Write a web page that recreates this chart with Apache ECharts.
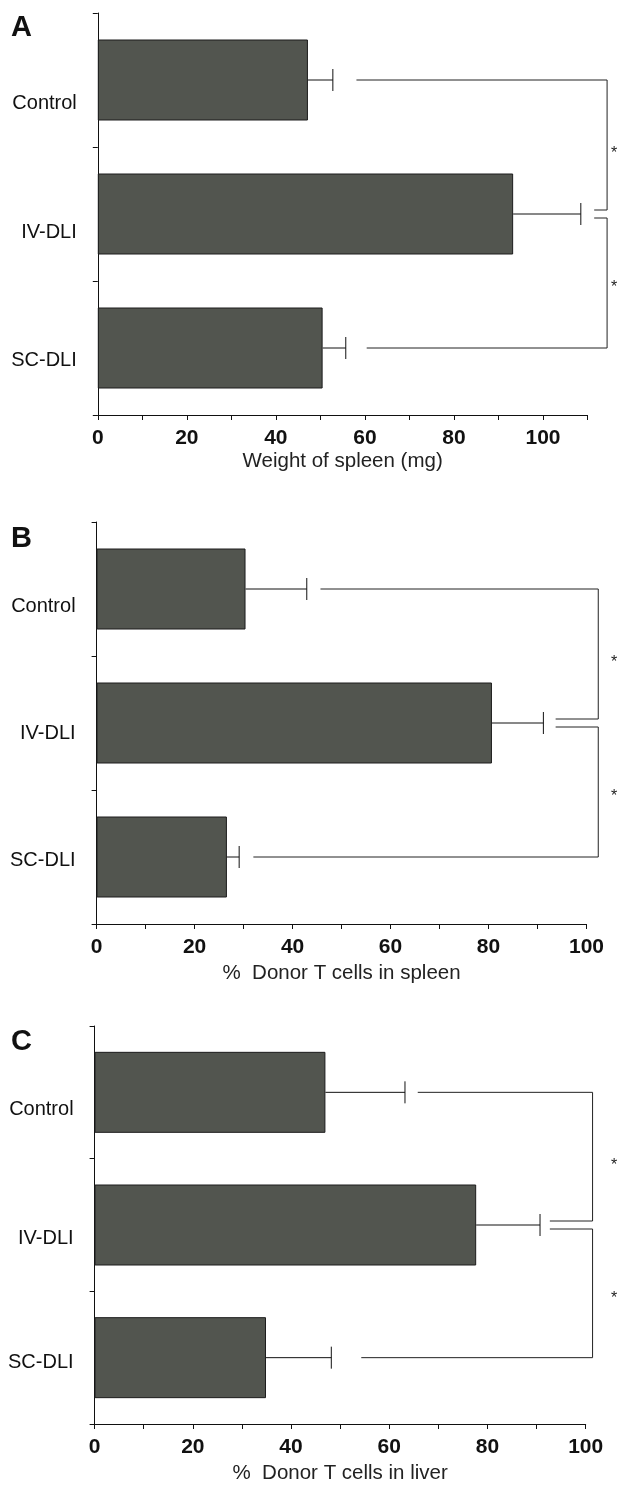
<!DOCTYPE html>
<html><head><meta charset="utf-8">
<script src="https://cdn.jsdelivr.net/npm/echarts@6/dist/echarts.min.js"></script>
<style>html,body{margin:0;padding:0;background:#fff}#c{width:618px;height:1485px}</style>
</head><body><div id="c"></div>
<script>
// ---------- data ----------
const categories = ['Control', 'IV-DLI', 'SC-DLI'];
const spleenWeight = [47.2, 93.3, 50.5];
const spleenWeightErr = [5.6, 15.2, 5.2];
const donorSpleen = [30.4, 80.7, 26.6];
const donorSpleenErr = [12.5, 10.5, 2.5];
const donorLiver = [47.0, 77.7, 34.9];
const donorLiverErr = [16.2, 13.0, 13.3];
const xLabelValues = [0, 20, 40, 60, 80, 100];
const xMaxA = 110, xMaxB = 100, xMaxC = 100;
// significance brackets: [Control line start, SC-DLI line start, bracket x, IV-DLI stub end]
const bracketA = [58.1, 60.4, 114.4, 111.5];
const bracketB = [45.7, 32.0, 102.4, 93.7];
const bracketC = [65.8, 54.3, 101.4, 92.7];
const panelLetters = ['A', 'B', 'C'];
const axisTitles = ['Weight of spleen (mg)', '%  Donor T cells in spleen', '%  Donor T cells in liver'];
const sigMark = '*';

// ---------- layout / style ----------
const FONT = "'Liberation Sans', Arial, Helvetica, sans-serif";
const grids = [
  { left: 97.8, top: 13, width: 489.7, height: 402 },
  { left: 96.6, top: 522, width: 489.9, height: 402 },
  { left: 94.6, top: 1026, width: 491.1, height: 402 }
];
const labelShift = [[23, 18, 12], [17, 10, 3], [17, 13, 5]];
const nameGaps = [36, 39, 39];
const letterY = [28, 539, 1042];
const BAR = '#52554f';

const panels = [
  { mean: spleenWeight, err: spleenWeightErr, max: xMaxA, br: bracketA },
  { mean: donorSpleen, err: donorSpleenErr, max: xMaxB, br: bracketB },
  { mean: donorLiver, err: donorLiverErr, max: xMaxC, br: bracketC }
];

const xAxes = [], yAxes = [], series = [], graphics = [];
panels.forEach((p, i) => {
  xAxes.push({
    type: 'value', gridIndex: i, min: 0, max: p.max, interval: 10,
    name: axisTitles[i], nameLocation: 'middle', nameGap: nameGaps[i],
    nameTextStyle: { fontFamily: FONT, fontSize: 20.5, color: '#222' },
    axisLine: { show: true, lineStyle: { color: '#111', width: 1 } },
    axisTick: { show: true, length: 5, lineStyle: { color: '#111', width: 1 } },
    splitLine: { show: false },
    axisLabel: {
      margin: 13, fontFamily: FONT, fontSize: 21, fontWeight: 'bold', color: '#111',
      showMaxLabel: true, showMinLabel: true,
      formatter: v => (xLabelValues.indexOf(v) >= 0 ? String(v) : '')
    }
  });
  const rich = {};
  labelShift[i].forEach((s, k) => {
    rich['s' + k] = { fontFamily: FONT, fontSize: 20, color: '#111', padding: [2 * s, 0, 0, 0] };
  });
  yAxes.push({
    type: 'category', gridIndex: i, data: categories, inverse: true,
    axisLine: { show: true, lineStyle: { color: '#111', width: 1 } },
    axisTick: { show: true, length: 5, lineStyle: { color: '#111', width: 1 } },
    splitLine: { show: false },
    axisLabel: {
      margin: 21, fontFamily: FONT, fontSize: 20, color: '#111',
      formatter: (v, idx) => '{s' + idx + '|' + v + '}',
      rich: rich
    }
  });
  series.push({
    type: 'bar', xAxisIndex: i, yAxisIndex: i, barWidth: 81,
    data: p.mean,
    itemStyle: { color: BAR, borderColor: '#1c1c1c', borderWidth: 1 },
    silent: true
  });
  series.push({
    type: 'custom', xAxisIndex: i, yAxisIndex: i, clip: false, silent: true,
    encode: { x: [1, 2], y: 0 },
    data: p.mean.map((m, k) => [k, m, p.err[k]]),
    renderItem: function (params, api) {
      const ci = api.value(0), m = api.value(1), e = api.value(2);
      const a = api.coord([m, ci]), b = api.coord([m + e, ci]);
      const h = 11;
      return { type: 'group', children: [
        { type: 'line', shape: { x1: a[0], y1: a[1], x2: b[0], y2: b[1] }, style: { stroke: '#111', lineWidth: 1 } },
        { type: 'line', shape: { x1: b[0], y1: b[1] - h, x2: b[0], y2: b[1] + h }, style: { stroke: '#111', lineWidth: 1 } }
      ] };
    }
  });
  series.push({
    type: 'custom', xAxisIndex: i, yAxisIndex: i, clip: false, silent: true,
    encode: { x: [0, 1, 2, 3], y: 4 },
    data: [[p.br[0], p.br[1], p.br[2], p.br[3], 0]],
    renderItem: function (params, api) {
      const xc = api.coord([api.value(0), 0])[0];
      const xs = api.coord([api.value(1), 0])[0];
      const xb = api.coord([api.value(2), 0])[0];
      const xt = api.coord([api.value(3), 0])[0];
      const yc = api.coord([0, 0])[1], yi = api.coord([0, 1])[1], ys = api.coord([0, 2])[1];
      const g = 4;
      const st = { stroke: '#222', lineWidth: 1, fill: null };
      const ax = api.getWidth() - 7;
      return { type: 'group', children: [
        { type: 'polyline', shape: { points: [[xc, yc], [xb, yc], [xb, yi - g], [xt, yi - g]] }, style: st },
        { type: 'polyline', shape: { points: [[xt, yi + g], [xb, yi + g], [xb, ys], [xs, ys]] }, style: st },
        { type: 'text', x: ax, y: (yc + yi) / 2 + 7, style: { text: sigMark, font: '16px ' + FONT, fill: '#222', align: 'left', verticalAlign: 'middle' } },
        { type: 'text', x: ax, y: (yi + ys) / 2 + 7, style: { text: sigMark, font: '16px ' + FONT, fill: '#222', align: 'left', verticalAlign: 'middle' } }
      ] };
    }
  });
  graphics.push({
    type: 'text', left: 11, top: letterY[i] - 15,
    style: { text: panelLetters[i], font: 'bold 29px ' + FONT, fill: '#111' }
  });
});

const chart = echarts.init(document.getElementById('c'), null, { renderer: 'canvas' });
chart.setOption({
  backgroundColor: '#fff',
  animation: false,
  grid: grids,
  xAxis: xAxes,
  yAxis: yAxes,
  series: series,
  graphic: graphics
});
</script>
</body></html>
